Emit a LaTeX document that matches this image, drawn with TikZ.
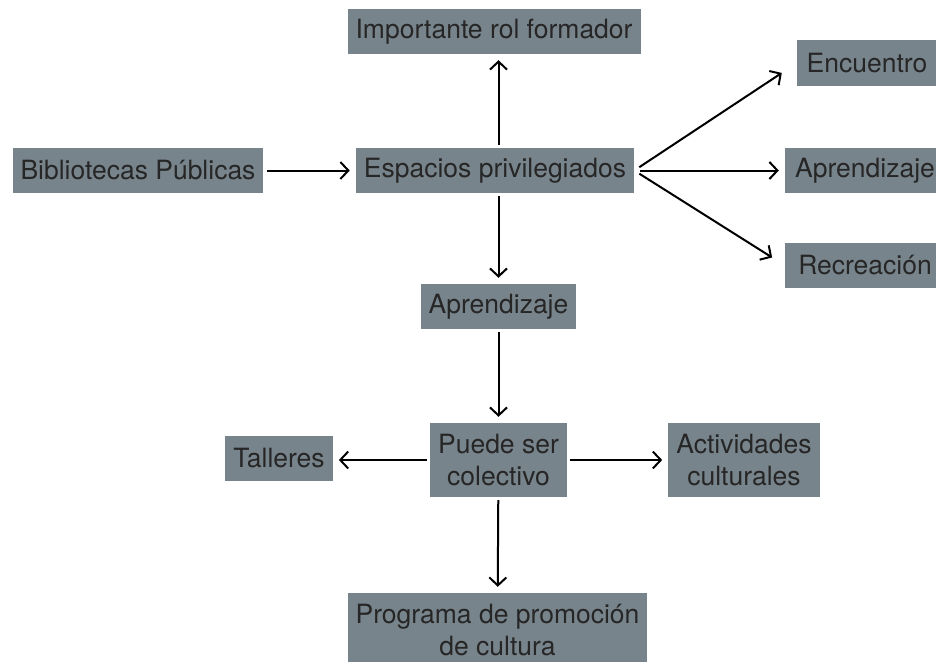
\documentclass[tikz,border=0pt]{standalone}
\usepackage{fontspec}
\setmainfont{TeX Gyre Heros}
\usepackage{tikz}
\usetikzlibrary{arrows.meta}
\definecolor{boxgray}{RGB}{120,132,139}
\definecolor{txtgray}{RGB}{38,38,38}
\tikzset{%
  gbox/.style={draw=none,fill=boxgray,text=txtgray,inner xsep=8pt,inner ysep=0pt,
    minimum height=45pt,align=center,font=\fontsize{26.5}{32}\selectfont},
  arr/.style={draw=black,line width=2pt,-{Straight Barb[length=8pt,width=17pt,line width=2pt]},
    shorten <=3pt,shorten >=6pt}
}

\begin{document}
\begin{tikzpicture}[x=1pt,y=-1pt]
    \clip (0,0) rectangle (936,661);
    \fill[white] (0,0) rectangle (936,661);
    \path
      (494,31.5) node (imp)[gbox]{Importante rol formador}
      (138,170.5) node (bib)[gbox]{Bibliotecas Públicas}
      (495,170.5) node (esp)[gbox]{Espacios privilegiados}
      (867,63) node (enc)[gbox,minimum width=140pt]{Encuentro}
      (865,170.5) node (apr)[gbox,minimum width=160pt]{Aprendizaje}
      (865,265.5) node (rec)[gbox,minimum width=160pt]{Recreación}
      (498.5,306.5) node (apb)[gbox]{Aprendizaje}
      (498.5,460) node (pue)[gbox,minimum height=74pt]{Puede ser\\colectivo}
      (279,458) node (tal)[gbox]{Talleres}
      (744,460) node (act)[gbox,minimum height=74pt]{Actividades\\culturales}
      (497.5,630) node (pro)[gbox,minimum height=74pt]{Programa de promoción\\de cultura};
    \draw[arr] (bib) -- (esp);
    \draw[arr] (esp.north -| apb.north) -- (imp.south -| apb.north);
    \draw[arr] (esp.south -| apb.north) -- (apb.north);
    \draw[arr,shorten <=6pt,shorten >=18pt] (esp.east) -- (enc.west);
    \draw[arr,shorten <=6pt] (esp.east) -- (apr.west);
    \draw[arr,shorten <=6pt,shorten >=15pt] (esp.east) -- (rec.west);
    \draw[arr] (apb) -- (pue);
    \draw[arr] (pue.west) -- (pue.west -| tal.east);
    \draw[arr] (pue) -- (act);
    \draw[arr] (pue) -- (pro);
  \end{tikzpicture}
\end{document}
